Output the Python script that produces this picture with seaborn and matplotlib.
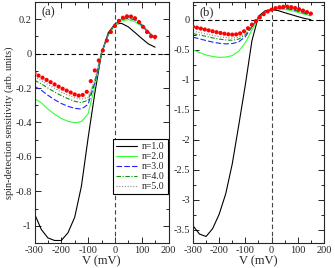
import numpy as np
import pandas as pd
import matplotlib
matplotlib.use("Agg")
import matplotlib.pyplot as plt
from matplotlib.ticker import MultipleLocator
import seaborn as sns

# voltage grids (mV)
v_line = [-300, -275, -250, -225, -200, -175, -150, -125, -100, -75, -50,
          -25, 0, 25, 50, 75, 100, 125, 150]
v_dot = list(range(-300, 151, 15))

# panel (a)
a_n1 = [-0.93, -1.02, -1.07, -1.085, -1.085, -1.04, -0.95, -0.77, -0.49, -0.23, 0.0,
        0.12, 0.172, 0.175, 0.155, 0.122, 0.088, 0.056, 0.037]
a_n2 = [-0.262, -0.285, -0.322, -0.352, -0.377, -0.393, -0.402, -0.395, -0.35, -0.19, 0.0,
        0.107, 0.165, 0.19, 0.197, 0.185, 0.158, 0.12, 0.082]
a_n3 = [-0.19, -0.212, -0.242, -0.268, -0.29, -0.306, -0.318, -0.322, -0.295, -0.17, 0.0,
        0.11, 0.17, 0.198, 0.205, 0.195, 0.165, 0.125, 0.088]
a_n4 = [-0.155, -0.175, -0.2, -0.223, -0.244, -0.262, -0.277, -0.285, -0.27, -0.16, 0.005,
        0.11, 0.17, 0.2, 0.208, 0.198, 0.168, 0.128, 0.09]
a_n5 = [-0.137, -0.156, -0.18, -0.202, -0.224, -0.242, -0.257, -0.265, -0.255, -0.155, 0.008,
        0.112, 0.17, 0.202, 0.211, 0.2, 0.17, 0.13, 0.093]
a_red = [-0.115, -0.128, -0.14, -0.153, -0.166, -0.179, -0.192, -0.204, -0.215, -0.226,
         -0.237, -0.244, -0.24, -0.222, -0.16, -0.098, -0.04, 0.018, 0.075, 0.125,
         0.16, 0.19, 0.208, 0.216, 0.215, 0.205, 0.183, 0.155, 0.125, 0.10, 0.097]

# panel (b)
b_n1 = [-3.43, -3.57, -3.61, -3.48, -3.24, -2.9, -2.4, -1.75, -1.08, -0.35, 0.06,
        0.15, 0.17, 0.155, 0.12, 0.088, 0.055, 0.025, 0.003]
b_n2 = [-0.5, -0.545, -0.585, -0.61, -0.625, -0.62, -0.595, -0.52, -0.38, -0.17, 0.02,
        0.12, 0.165, 0.18, 0.175, 0.155, 0.125, 0.095, 0.065]
b_n3 = [-0.29, -0.315, -0.345, -0.37, -0.39, -0.4, -0.395, -0.365, -0.28, -0.12, 0.04,
        0.13, 0.17, 0.19, 0.19, 0.175, 0.145, 0.11, 0.08]
b_n4 = [-0.23, -0.25, -0.275, -0.3, -0.32, -0.335, -0.34, -0.32, -0.25, -0.11, 0.04,
        0.135, 0.172, 0.195, 0.197, 0.182, 0.153, 0.118, 0.088]
b_n5 = [-0.19, -0.21, -0.235, -0.26, -0.28, -0.295, -0.305, -0.29, -0.23, -0.1, 0.04,
        0.137, 0.173, 0.2, 0.203, 0.19, 0.16, 0.125, 0.095]
b_red = [-0.115, -0.13, -0.145, -0.16, -0.175, -0.19, -0.205, -0.218, -0.23, -0.24,
         -0.245, -0.242, -0.225, -0.19, -0.14, -0.08, -0.02, 0.04, 0.095, 0.14,
         0.17, 0.195, 0.21, 0.218, 0.22, 0.212, 0.197, 0.178, 0.155, 0.13, 0.105]

labels = ["n=1.0", "n=2.0", "n=3.0", "n=4.0", "n=5.0"]
colors = ["black", "#33ff33", "#2222ff", "#009900", "#888888"]
styles = ["-", "-", (0, (5, 2)), (0, (4, 1.5, 1, 1.5)), (0, (1, 1.5))]

sns.set_style("ticks")
plt.rcParams["font.family"] = ["Liberation Serif", "DejaVu Serif"]

fig = plt.figure(figsize=(3.35, 2.68), dpi=100)
ax1 = fig.add_axes([0.103, 0.093, 0.400, 0.900])
ax2 = fig.add_axes([0.576, 0.093, 0.391, 0.900])

panels = [
    (ax1, [a_n1, a_n2, a_n3, a_n4, a_n5], a_red, (-1.1, 0.3), 0.2, 0.1, "(a)"),
    (ax2, [b_n1, b_n2, b_n3, b_n4, b_n5], b_red, (-3.72, 0.3), 0.5, 0.25, "(b)"),
]

for ax, series, red, ylim, major, minor, tag in panels:
    ax.axhline(0, color="black", lw=0.8, ls=(0, (4, 2.5)), zorder=1)
    ax.axvline(0, color="#444444", lw=0.8, ls=(0, (4, 2.5)), zorder=1)
    for vals, lab, c, st in zip(series, labels, colors, styles):
        df = pd.DataFrame({"V": v_line, "s": vals})
        sns.lineplot(data=df, x="V", y="s", ax=ax, color=c, lw=0.8,
                     linestyle=st, label=lab, zorder=2)
    dd = pd.DataFrame({"V": v_dot, "s": red})
    sns.scatterplot(data=dd, x="V", y="s", ax=ax, color="red", s=9,
                    edgecolor="none", zorder=3, legend=False)
    ax.set_xlim(-300, 200)
    ax.set_ylim(*ylim)
    ax.xaxis.set_major_locator(MultipleLocator(100))
    ax.xaxis.set_minor_locator(MultipleLocator(50))
    ax.yaxis.set_major_locator(MultipleLocator(major))
    ax.yaxis.set_minor_locator(MultipleLocator(minor))
    ax.tick_params(which="both", direction="in", top=True, right=True,
                   labelsize=7.5, width=0.7, pad=2)
    ax.tick_params(which="major", length=4)
    ax.tick_params(which="minor", length=2)
    for sp in ax.spines.values():
        sp.set_linewidth(0.8)
    ax.set_xlabel("V (mV)", fontsize=9, labelpad=0)
    ax.set_ylabel("")
    ax.text(0.05, 0.98, tag, transform=ax.transAxes, ha="left", va="top", fontsize=9)

ax1.set_yticks([-1, -0.8, -0.6, -0.4, -0.2, 0, 0.2])
ax1.set_yticklabels(["-1", "-0.8", "-0.6", "-0.4", "-0.2", "0", "0.2"])
ax2.set_yticks([-3.5, -3, -2.5, -2, -1.5, -1, -0.5, 0])
ax2.set_yticklabels(["-3.5", "-3", "-2.5", "-2", "-1.5", "-1", "-0.5", "0"])
for ax in (ax1, ax2):
    ax.set_xticks([-300, -200, -100, 0, 100, 200])
    ax.set_xticklabels(["-300", "-200", "-100", "0", "100", "200"])

ax1.set_ylabel("spin-detection sensitivity (arb. units)", fontsize=7.5, labelpad=1)

leg = ax1.legend(loc="lower right", bbox_to_anchor=(1.0, 0.2), fontsize=7,
                 frameon=True, fancybox=False, edgecolor="black", framealpha=1,
                 handlelength=2.2, handletextpad=0.5, borderpad=0.3,
                 labelspacing=0.1, borderaxespad=0.1)
leg.get_frame().set_linewidth(0.8)
ax2.get_legend().remove()

fig.savefig("out.png", dpi=100)
